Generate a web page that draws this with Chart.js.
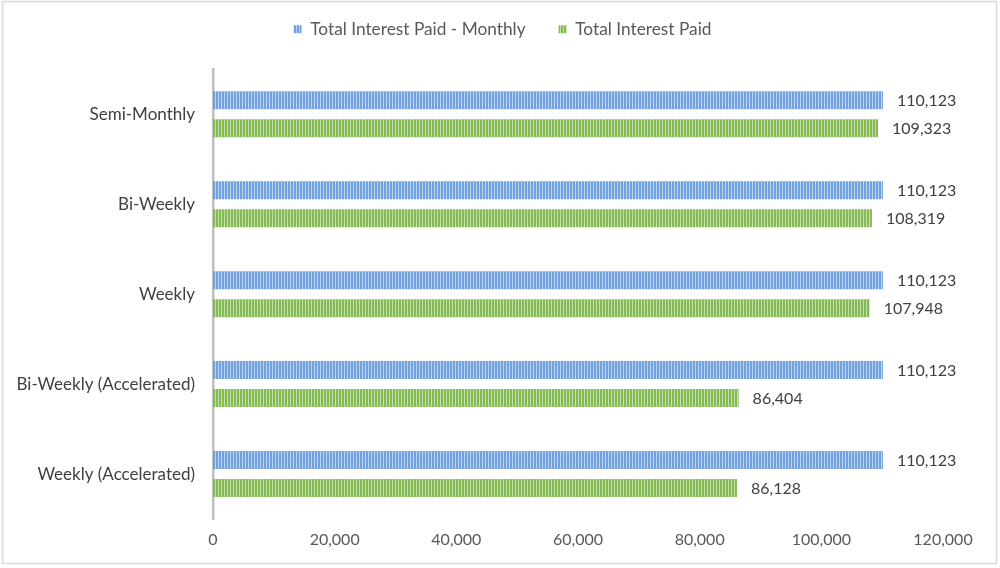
<!DOCTYPE html>
<html>
<head>
<meta charset="utf-8">
<script src="https://cdn.jsdelivr.net/npm/chart.js@4/dist/chart.umd.min.js"></script>
<style>
  html, body { margin: 0; padding: 0; background: #ffffff; }
  #wrap { position: relative; width: 1000px; height: 568px; }
</style>
</head>
<body>
<div id="wrap"><canvas id="c" width="1000" height="568"></canvas></div>
<script>
const categories = ["Semi-Monthly", "Bi-Weekly", "Weekly", "Bi-Weekly (Accelerated)", "Weekly (Accelerated)"];
const seriesNames = ["Total Interest Paid - Monthly", "Total Interest Paid"];
const monthlyInterest = [110123, 110123, 110123, 110123, 110123];
const totalInterest = [109323, 108319, 107948, 86404, 86128];
const xTicks = [0, 20000, 40000, 60000, 80000, 100000, 120000];

function stripe(base, light) {
  const c = document.createElement('canvas');
  c.width = 3; c.height = 3;
  const g = c.getContext('2d');
  g.fillStyle = base; g.fillRect(0, 0, 3, 3);
  g.fillStyle = light; g.fillRect(2, 0, 1, 3);
  return g.createPattern(c, 'repeat');
}
const ctx = document.getElementById('c').getContext('2d');
const bluePat = stripe('#72a2de', '#bcd4f2');
const greenPat = stripe('#86ba56', '#c4dea8');

const fmt = v => v.toLocaleString('en-US');

const frame = {
  id: 'frame',
  beforeLayout(chart) {
    const lg = chart.legend;
    if (lg && !lg._patched) {
      const orig = lg.fit;
      lg.fit = function () { orig.call(this); this.height += 21.5; };
      lg._patched = true;
    }
  },
  afterLayout(chart) {
    const lg = chart.legend;
    if (lg) { lg.left += 31; lg.right += 31; }
  },
  beforeDraw(chart) {
    const g = chart.ctx;
    g.save();
    g.fillStyle = '#ffffff';
    g.fillRect(0, 0, chart.width, chart.height);
    g.strokeStyle = '#d9d9d9';
    g.lineWidth = 1.5;
    g.strokeRect(2.5, 1.5, 994, 562);
    g.restore();
  }
};
const valueLabels = {
  id: 'valueLabels',
  afterDatasetsDraw(chart) {
    const g = chart.ctx;
    g.save();
    g.font = '16px Lato';
    g.fillStyle = '#404040';
    g.textAlign = 'left';
    g.textBaseline = 'middle';
    chart.data.datasets.forEach((ds, i) => {
      chart.getDatasetMeta(i).data.forEach((bar, j) => {
        g.fillText(fmt(ds.data[j]), bar.x + 14, bar.y + 1);
      });
    });
    g.restore();
  }
};

new Chart(ctx, {
  type: 'bar',
  data: {
    labels: categories,
    datasets: [
      { label: seriesNames[0], data: monthlyInterest, backgroundColor: bluePat, borderWidth: 0 },
      { label: seriesNames[1], data: totalInterest, backgroundColor: greenPat, borderWidth: 0 }
    ]
  },
  options: {
    indexAxis: 'y',
    responsive: false,
    animation: false,
    devicePixelRatio: 1,
    categoryPercentage: 0.622,
    barPercentage: 0.643,
    layout: { padding: { left: 0, right: 57, top: -12.5, bottom: 0 } },
    plugins: {
      legend: {
        position: 'top',
        labels: {
          boxWidth: 8, boxHeight: 8, padding: 33,
          color: '#595959', font: { family: 'Lato', size: 17.3 }
        }
      },
      tooltip: { enabled: false }
    },
    scales: {
      x: {
        min: 0, max: 120000,
        afterBuildTicks(scale) { scale.ticks = xTicks.map(v => ({ value: v })); },
        afterFit(scale) { scale.height = 49; },
        grid: { display: false, drawTicks: false },
        border: { display: false },
        ticks: { color: '#595959', font: { family: 'Lato', size: 16 }, padding: 11.5, callback: v => fmt(v) }
      },
      y: {
        afterFit(scale) { scale.width = 213; },
        grid: { display: false, drawTicks: false },
        border: { display: true, color: '#bfbfbf', width: 2.5 },
        ticks: { color: '#404040', font: { family: 'Lato', size: 17 }, padding: 18 }
      }
    }
  },
  plugins: [frame, valueLabels]
});
</script>
</body>
</html>
